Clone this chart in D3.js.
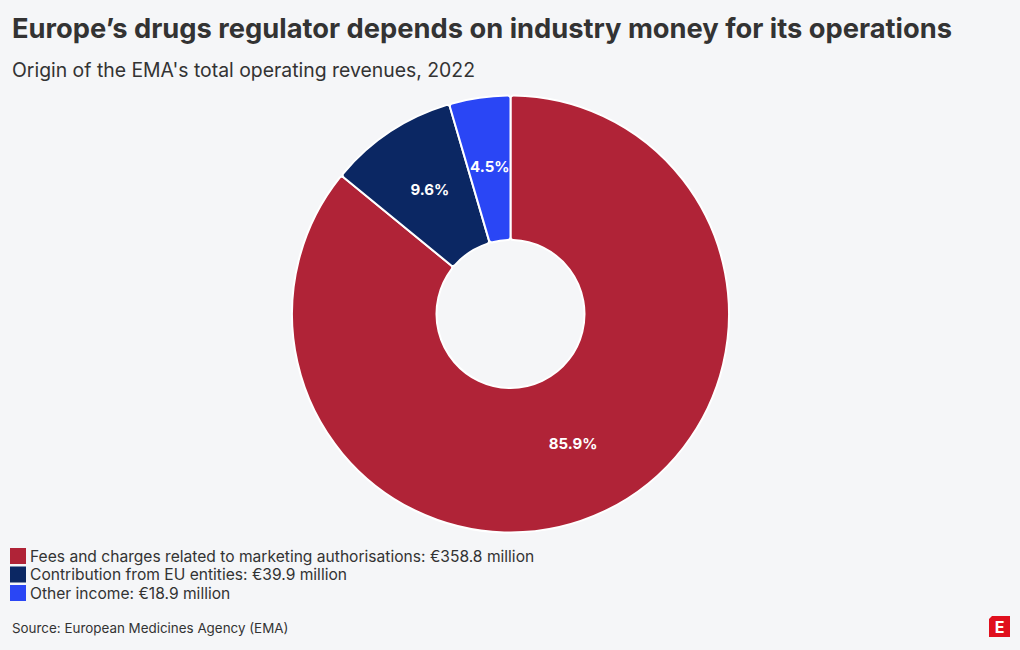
<!DOCTYPE html>
<html><head><meta charset="utf-8">
<script src="https://cdn.jsdelivr.net/npm/d3@7"></script>
<style>
body{margin:0;background:#f5f6f8;}
svg{display:block;font-family:Inter,"Noto Sans",sans-serif;}
</style></head>
<body><svg id="c" width="1020" height="650"></svg>
<script>
const categories = ["Fees and charges related to marketing authorisations", "Contribution from EU entities", "Other income"];
const valuesMillion = [358.8, 39.9, 18.9];
const shareLabels = ["85.9%", "9.6%", "4.5%"];
const colors = ["#b02337", "#0b2763", "#2a46f5"];

const svg = d3.select("#c");
svg.append("rect").attr("width",1020).attr("height",650).attr("fill","#f5f6f8");

svg.append("text").attr("x",12).attr("y",38).attr("font-size",27.3).attr("font-weight",700)
  .attr("fill","#333").text("Europe’s drugs regulator depends on industry money for its operations");
svg.append("text").attr("x",12).attr("y",77).attr("font-size",19.4).attr("fill","#333")
  .text("Origin of the EMA's total operating revenues, 2022");

const cx=510.5, cy=314, R=218.5, r0=74;
const pie = d3.pie().sort(null).value(d=>d);
const arcs = pie(valuesMillion);
const arc = d3.arc().innerRadius(r0).outerRadius(R).cornerRadius(3);
const g = svg.append("g").attr("transform",`translate(${cx},${cy})`);
g.selectAll("path").data(arcs).join("path")
  .attr("d",arc).attr("fill",(d,i)=>colors[i]).attr("stroke","#fff").attr("stroke-width",2);
g.selectAll("text").data(arcs).join("text")
  .attr("transform",d=>`translate(${arc.centroid(d)})`)
  .attr("text-anchor","middle").attr("dy","0.2em")
  .attr("fill","#fff").attr("font-size",15).attr("font-weight",700)
  .text((d,i)=>shareLabels[i]);

const leg = svg.append("g");
categories.forEach((c,i)=>{
  const y = 548 + i*18.5;
  leg.append("rect").attr("x",10).attr("y",y).attr("width",16).attr("height",16).attr("fill",colors[i]);
  leg.append("text").attr("x",30).attr("y",y+13.5).attr("font-size",15.6).attr("fill","#333")
    .text(`${c}: €${valuesMillion[i]} million`);
});

svg.append("text").attr("x",12).attr("y",633).attr("font-size",13.4).attr("fill","#333")
  .text("Source: European Medicines Agency (EMA)");

const logo = svg.append("g").attr("transform","translate(989,616)");
logo.append("path").attr("d","M3,0 H21 V21 H0 V3 Z").attr("fill","#e0101e");
logo.append("text").attr("x",10.5).attr("y",16.5).attr("text-anchor","middle").attr("font-size",16)
  .attr("font-weight",700).attr("fill","#fff").text("E");
</script></body></html>
